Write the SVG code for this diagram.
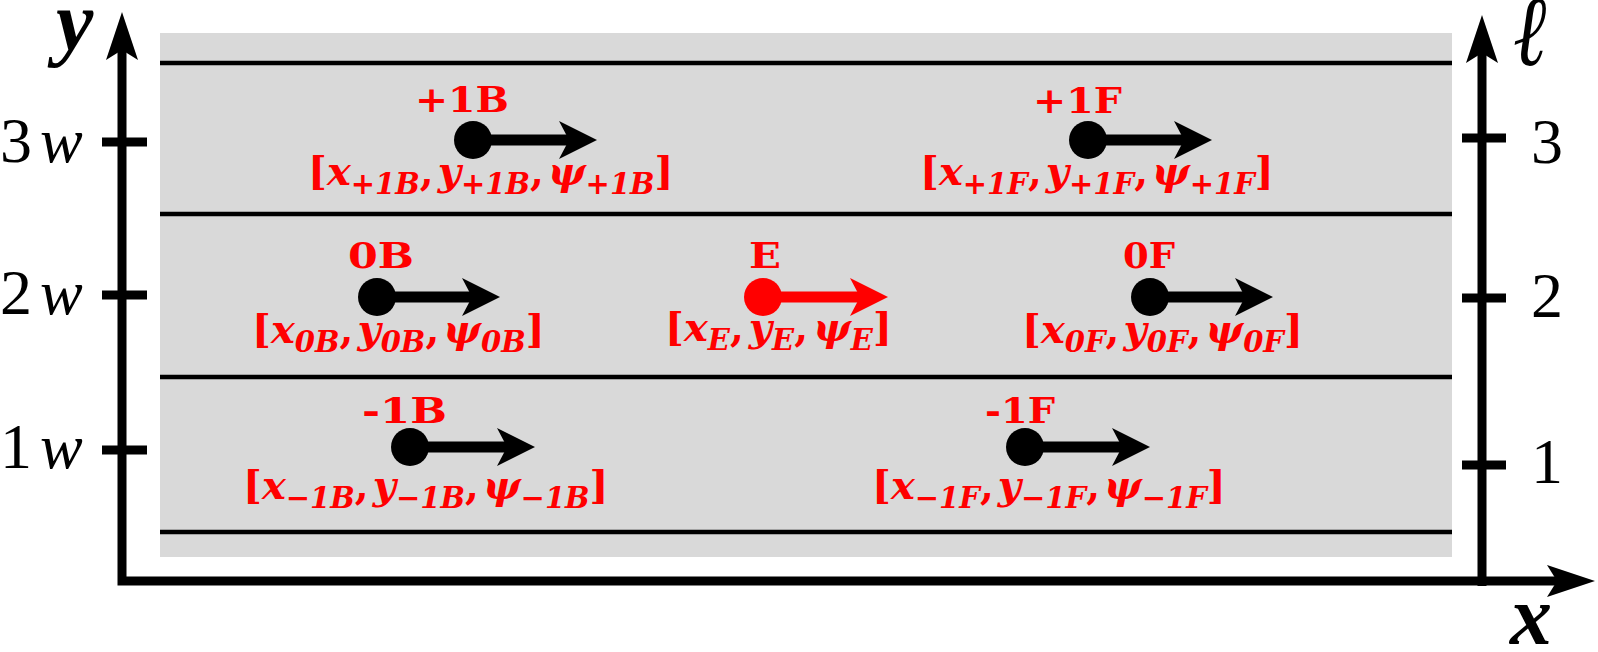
<svg xmlns="http://www.w3.org/2000/svg" width="1598" height="652" viewBox="0 0 1598 652">
<style>
.lane{stroke:#000;stroke-width:4.5}
.axis{stroke:#000;stroke-width:9;fill:none}
.tick{stroke:#000;stroke-width:9}
.hd{stroke:#000;stroke-width:11}
.hdr{stroke:#f00;stroke-width:11}
.tl{font-family:"Liberation Serif",serif;font-size:64px;fill:#000}
.ell{font-family:"Liberation Serif","DejaVu Serif",serif;font-size:100px;font-style:italic;fill:#000}
.ax{font-family:"Liberation Serif",serif;font-size:84px;font-weight:bold;font-style:italic;fill:#000}
.nm{font-family:"DejaVu Serif",serif;font-size:36px;font-weight:bold;fill:#f00}
.st{font-family:"DejaVu Serif",serif;font-size:40px;font-weight:bold;fill:#f00}
.v{font-style:italic}
.sb{font-size:29px;font-style:italic}
</style>
<defs>
<marker id="ah" markerUnits="userSpaceOnUse" viewBox="0 0 38 38" markerWidth="38" markerHeight="38" refX="10" refY="19" orient="auto"><path d="M0,0 L38,19 L0,38 L10,19 Z" fill="#000"/></marker>
<marker id="ahr" markerUnits="userSpaceOnUse" viewBox="0 0 38 38" markerWidth="38" markerHeight="38" refX="10" refY="19" orient="auto"><path d="M0,0 L38,19 L0,38 L10,19 Z" fill="#f00"/></marker>
<marker id="axh" markerUnits="userSpaceOnUse" viewBox="0 0 48 32" markerWidth="48" markerHeight="32" refX="10" refY="16" orient="auto-start-reverse"><path d="M0,0 L48,16 L0,32 L10,16 Z" fill="#000"/></marker>
</defs>
<rect x="0" y="0" width="1598" height="652" fill="#fff"/>
<g id="road">
<rect x="160" y="33" width="1292" height="524" fill="#d9d9d9"/>
<line class="lane" x1="160" y1="63" x2="1452" y2="63"/>
<line class="lane" x1="160" y1="214" x2="1452" y2="214"/>
<line class="lane" x1="160" y1="377" x2="1452" y2="377"/>
<line class="lane" x1="160" y1="532" x2="1452" y2="532"/>
</g>
<g id="axes">
<path class="axis" d="M122,50 V581 H1557" stroke-linejoin="miter" marker-start="url(#axh)" marker-end="url(#axh)"/>
<line class="axis" x1="1482" y1="586" x2="1482" y2="53" marker-end="url(#axh)"/>
<line class="tick" x1="102" y1="142" x2="147" y2="142"/>
<line class="tick" x1="102" y1="295" x2="147" y2="295"/>
<line class="tick" x1="102" y1="450" x2="147" y2="450"/>
<line class="tick" x1="1462" y1="138" x2="1506" y2="138"/>
<line class="tick" x1="1462" y1="298" x2="1506" y2="298"/>
<line class="tick" x1="1462" y1="465" x2="1506" y2="465"/>
<text class="ax" x="56" y="50">y</text>
<text class="ax" x="1510" y="644">x</text>
<text class="ell" transform="translate(1513,65) scale(0.8,1)" x="0" y="0">ℓ</text>
<text class="tl" x="0" y="162">3<tspan x="40" font-style="italic">w</tspan></text>
<text class="tl" x="0" y="314">2<tspan x="40" font-style="italic">w</tspan></text>
<text class="tl" x="0" y="468">1<tspan x="40" font-style="italic">w</tspan></text>
<text class="tl" x="1531" y="163">3</text>
<text class="tl" x="1531" y="317">2</text>
<text class="tl" x="1531" y="483">1</text>
</g>
<g id="connectors">
<line class="hd" x1="473" y1="140" x2="569" y2="140" marker-end="url(#ah)"/>
<line class="hd" x1="1088" y1="140" x2="1184" y2="140" marker-end="url(#ah)"/>
<line class="hd" x1="377" y1="297" x2="472" y2="297" marker-end="url(#ah)"/>
<line class="hdr" x1="763" y1="297" x2="860" y2="297" marker-end="url(#ahr)"/>
<line class="hd" x1="1150" y1="297" x2="1245" y2="297" marker-end="url(#ah)"/>
<line class="hd" x1="410" y1="447" x2="507" y2="447" marker-end="url(#ah)"/>
<line class="hd" x1="1025" y1="447" x2="1122" y2="447" marker-end="url(#ah)"/>
</g>
<g id="node-p1B">
<circle cx="473" cy="140" r="19" fill="#000"/>
<text class="nm" x="415" y="112" textLength="94" lengthAdjust="spacingAndGlyphs">+1B</text>
<text class="st" x="308" y="185">[<tspan class="v">x</tspan><tspan class="sb" dy="9">+1B</tspan><tspan dy="-9">,</tspan><tspan class="v" dx="4">y</tspan><tspan class="sb" dy="9">+1B</tspan><tspan dy="-9">,</tspan><tspan class="v" dx="4">ψ</tspan><tspan class="sb" dy="9">+1B</tspan><tspan dy="-9">]</tspan></text>
</g>
<g id="node-p1F">
<circle cx="1088" cy="140" r="19" fill="#000"/>
<text class="nm" x="1033" y="113" textLength="89" lengthAdjust="spacingAndGlyphs">+1F</text>
<text class="st" x="920" y="185">[<tspan class="v">x</tspan><tspan class="sb" dy="9">+1F</tspan><tspan dy="-9">,</tspan><tspan class="v" dx="4">y</tspan><tspan class="sb" dy="9">+1F</tspan><tspan dy="-9">,</tspan><tspan class="v" dx="4">ψ</tspan><tspan class="sb" dy="9">+1F</tspan><tspan dy="-9">]</tspan></text>
</g>
<g id="node-0B">
<circle cx="377" cy="297" r="19" fill="#000"/>
<text class="nm" x="348" y="268" textLength="66" lengthAdjust="spacingAndGlyphs">0B</text>
<text class="st" x="252" y="343">[<tspan class="v">x</tspan><tspan class="sb" dy="9">0B</tspan><tspan dy="-9">,</tspan><tspan class="v" dx="4">y</tspan><tspan class="sb" dy="9">0B</tspan><tspan dy="-9">,</tspan><tspan class="v" dx="4">ψ</tspan><tspan class="sb" dy="9">0B</tspan><tspan dy="-9">]</tspan></text>
</g>
<g id="node-E">
<circle cx="763" cy="297" r="19" fill="#f00"/>
<text class="nm" x="749" y="268" textLength="32" lengthAdjust="spacingAndGlyphs">E</text>
<text class="st" x="665" y="341">[<tspan class="v">x</tspan><tspan class="sb" dy="9">E</tspan><tspan dy="-9">,</tspan><tspan class="v" dx="5">y</tspan><tspan class="sb" dy="9">E</tspan><tspan dy="-9">,</tspan><tspan class="v" dx="5">ψ</tspan><tspan class="sb" dy="9">E</tspan><tspan dy="-9">]</tspan></text>
</g>
<g id="node-0F">
<circle cx="1150" cy="297" r="19" fill="#000"/>
<text class="nm" x="1123" y="268" textLength="52" lengthAdjust="spacingAndGlyphs">0F</text>
<text class="st" x="1022" y="343">[<tspan class="v">x</tspan><tspan class="sb" dy="9">0F</tspan><tspan dy="-9">,</tspan><tspan class="v" dx="4">y</tspan><tspan class="sb" dy="9">0F</tspan><tspan dy="-9">,</tspan><tspan class="v" dx="4">ψ</tspan><tspan class="sb" dy="9">0F</tspan><tspan dy="-9">]</tspan></text>
</g>
<g id="node-m1B">
<circle cx="410" cy="447" r="19" fill="#000"/>
<text class="nm" x="362" y="423" textLength="85" lengthAdjust="spacingAndGlyphs">-1B</text>
<text class="st" x="243" y="499">[<tspan class="v">x</tspan><tspan class="sb" dy="9">−1B</tspan><tspan dy="-9">,</tspan><tspan class="v" dx="4">y</tspan><tspan class="sb" dy="9">−1B</tspan><tspan dy="-9">,</tspan><tspan class="v" dx="4">ψ</tspan><tspan class="sb" dy="9">−1B</tspan><tspan dy="-9">]</tspan></text>
</g>
<g id="node-m1F">
<circle cx="1025" cy="447" r="19" fill="#000"/>
<text class="nm" x="985" y="423" textLength="70" lengthAdjust="spacingAndGlyphs">-1F</text>
<text class="st" x="872" y="499">[<tspan class="v">x</tspan><tspan class="sb" dy="9">−1F</tspan><tspan dy="-9">,</tspan><tspan class="v" dx="4">y</tspan><tspan class="sb" dy="9">−1F</tspan><tspan dy="-9">,</tspan><tspan class="v" dx="4">ψ</tspan><tspan class="sb" dy="9">−1F</tspan><tspan dy="-9">]</tspan></text>
</g>
</svg>
